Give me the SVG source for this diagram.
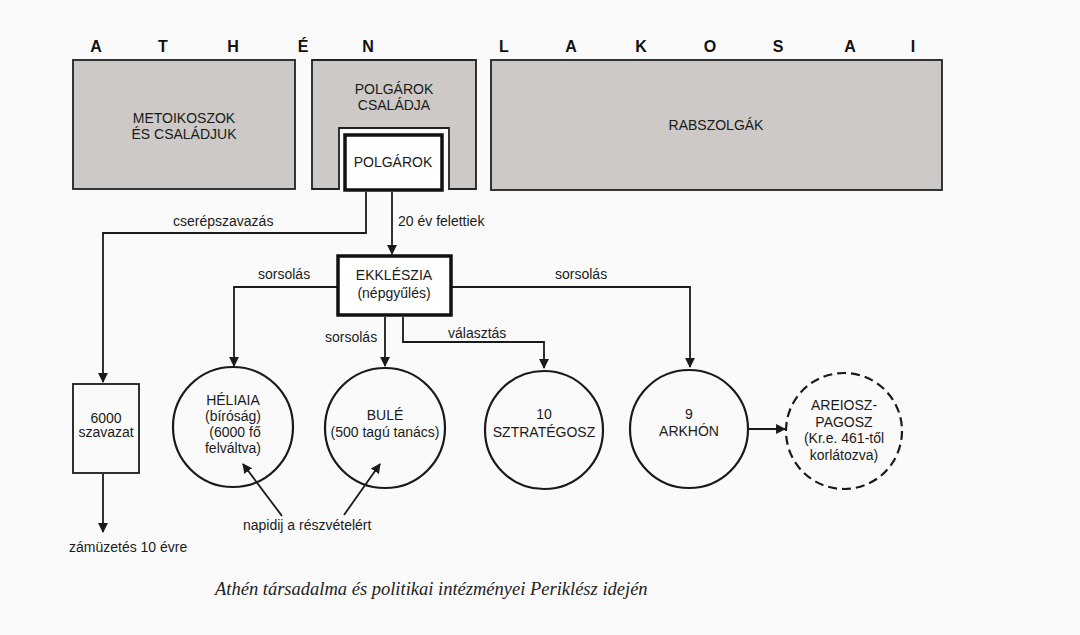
<svg xmlns="http://www.w3.org/2000/svg" width="1080" height="635" viewBox="0 0 1080 635">
<defs>
<style>
.t{font-family:"Liberation Sans",Arial,sans-serif;font-size:14px;fill:#1a1a1a;text-anchor:middle}
.h{font-family:"Liberation Sans",Arial,sans-serif;font-size:16px;font-weight:bold;fill:#111;text-anchor:middle}
.l{font-family:"Liberation Sans",Arial,sans-serif;font-size:14px;fill:#1a1a1a}
.g{fill:#ccc9c6;stroke:#222;stroke-width:1.8}
.c{fill:none;stroke:#1a1a1a;stroke-width:2.2}
.k{fill:none;stroke:#1a1a1a;stroke-width:1.8}
.cap{font-family:"Liberation Serif","Times New Roman",serif;font-style:italic;font-size:18.5px;fill:#222}
</style>
<marker id="ah" viewBox="0 0 10 10" refX="9" refY="5" markerWidth="5.5" markerHeight="6.5" orient="auto" markerUnits="strokeWidth">
<path d="M0,0 L10,5 L0,10 Z" fill="#1a1a1a"/>
</marker>
</defs>
<rect width="1080" height="635" fill="#fafafa"/>
<g id="header">
<text class="h" x="96" y="52">A</text>
<text class="h" x="163" y="52">T</text>
<text class="h" x="233" y="52">H</text>
<text class="h" x="303" y="52">É</text>
<text class="h" x="368" y="52">N</text>
<text class="h" x="504" y="52">L</text>
<text class="h" x="571" y="52">A</text>
<text class="h" x="641" y="52">K</text>
<text class="h" x="710" y="52">O</text>
<text class="h" x="778" y="52">S</text>
<text class="h" x="850" y="52">A</text>
<text class="h" x="913" y="52">I</text>
</g>
<g id="metoikoszok">
<rect class="g" x="73" y="60" width="222" height="129"/>
<text class="t" x="184" y="123">METOIKOSZOK</text>
<text class="t" x="184" y="139">ÉS CSALÁDJUK</text>
</g>
<g id="polgarok-csaladja">
<path class="g" d="M312,60 H476 V189 H449 V128 H339 V189 H312 Z"/>
<text class="t" x="394" y="94">POLGÁROK</text>
<text class="t" x="394" y="110">CSALÁDJA</text>
</g>
<g id="rabszolgak">
<rect class="g" x="491" y="60" width="451" height="130"/>
<text class="t" x="716" y="130">RABSZOLGÁK</text>
</g>
<g id="polgarok">
<rect x="345" y="135" width="97" height="55" fill="#fff" stroke="#111" stroke-width="3.5"/>
<text class="t" x="393" y="167">POLGÁROK</text>
</g>
<g id="connectors">
<path class="k" d="M366,192 V233 H103 V382" marker-end="url(#ah)"/>
<path class="k" d="M392,192 V254" marker-end="url(#ah)"/>
<path class="k" d="M337,287 H234 V366" marker-end="url(#ah)"/>
<path class="k" d="M451,287 H690 V367" marker-end="url(#ah)"/>
<path class="k" d="M385,317 V366" marker-end="url(#ah)"/>
<path class="k" d="M403,317 V342 H544 V368" marker-end="url(#ah)"/>
<path class="k" d="M103,474 V532" marker-end="url(#ah)"/>
<path class="k" d="M747,429 H785" marker-end="url(#ah)"/>
<path class="k" d="M282,516 L243,464" marker-end="url(#ah)"/>
<path class="k" d="M344,515 L380,464" marker-end="url(#ah)"/>
<text class="l" x="173" y="226">cserépszavazás</text>
<text class="l" x="398" y="226">20 év felettiek</text>
<text class="l" x="258" y="279">sorsolás</text>
<text class="l" x="555" y="279">sorsolás</text>
<text class="l" x="325" y="342">sorsolás</text>
<text class="l" x="448" y="338">választás</text>
<text class="l" x="69" y="552">zámüzetés 10 évre</text>
<text class="l" x="243" y="530">napidij a részvételért</text>
</g>
<g id="ekkleszia">
<rect x="338" y="256" width="113" height="59" fill="#fff" stroke="#111" stroke-width="3.5"/>
<text class="t" x="394" y="280">EKKLÉSZIA</text>
<text class="t" x="394" y="298">(népgyűlés)</text>
</g>
<g id="szavazat">
<rect class="k" x="73" y="384" width="66" height="89"/>
<text class="t" x="106" y="423">6000</text>
<text class="t" x="106" y="437">szavazat</text>
</g>
<g id="heliaia">
<circle class="c" cx="233" cy="427" r="60"/>
<text class="t" x="233" y="405">HÉLIAIA</text>
<text class="t" x="233" y="421">(bíróság)</text>
<text class="t" x="235" y="437">(6000 fő</text>
<text class="t" x="233" y="453">felváltva)</text>
</g>
<g id="bule">
<circle class="c" cx="385" cy="428" r="60"/>
<text class="t" x="385" y="420">BULÉ</text>
<text class="t" x="385" y="437">(500 tagú tanács)</text>
</g>
<g id="sztrategosz">
<circle class="c" cx="544" cy="430" r="59"/>
<text class="t" x="544" y="419">10</text>
<text class="t" x="544" y="437">SZTRATÉGOSZ</text>
</g>
<g id="arkhon">
<circle class="c" cx="689" cy="429" r="59"/>
<text class="t" x="689" y="419">9</text>
<text class="t" x="689" y="436">ARKHÓN</text>
</g>
<g id="areiosz">
<circle class="c" cx="844" cy="431" r="58" stroke-dasharray="9,5"/>
<text class="t" x="844" y="410">AREIOSZ-</text>
<text class="t" x="844" y="427">PAGOSZ</text>
<text class="t" x="844" y="443">(Kr.e. 461-től</text>
<text class="t" x="844" y="460">korlátozva)</text>
</g>
<g id="caption">
<text class="cap" x="215" y="595">Athén társadalma és politikai intézményei Periklész idején</text>
</g>
</svg>
